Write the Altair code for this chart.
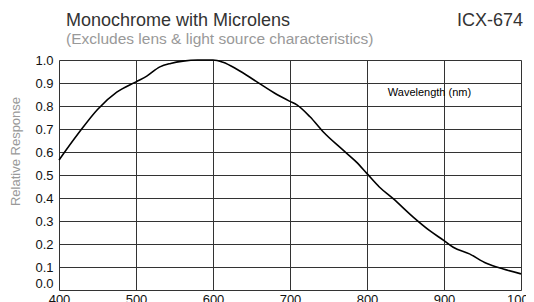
import altair as alt
import pandas as pd

wavelength = [400, 425, 450, 475, 500, 514, 531, 545, 561, 580, 600, 613, 631,
              657, 683, 700, 709, 726, 743, 769, 786, 800, 816, 834, 860, 881, 900,
              912, 933, 955, 977, 1000]
response = [0.565, 0.68, 0.785, 0.86, 0.905, 0.93, 0.97, 0.985, 0.995, 1.0, 1.0,
            0.99, 0.96, 0.905, 0.85, 0.82, 0.805, 0.753, 0.688, 0.608, 0.557, 0.506,
            0.448, 0.397, 0.317, 0.259, 0.215, 0.186, 0.157, 0.116, 0.091, 0.07]

x_ticks = [400, 500, 600, 700, 800, 900, 1000]
y_ticks = [0.0, 0.1, 0.2, 0.3, 0.4, 0.5, 0.6, 0.7, 0.8, 0.9, 1.0]

annot_text = ["Wavelength (nm)"]
annot_x = [827]
annot_y = [0.857]

title_text = ["Monochrome with Microlens"]
subtitle_text = ["(Excludes lens & light source characteristics)"]
model_text = ["ICX-674"]

FONT = "Liberation Sans"

df = pd.DataFrame({"wl": wavelength, "r": response})
ann = pd.DataFrame({"t": annot_text, "x": annot_x, "y": annot_y})

xs = alt.Scale(domain=[400, 1000], nice=False)
ys = alt.Scale(domain=[0, 1], nice=False)

x_axis = alt.Axis(values=x_ticks, format="d", grid=True, gridColor="#333", gridWidth=1,
                  domain=False, ticks=False, labelPadding=3, labelOverlap=False,
                  labelFlush=False,
                  labelFont=FONT, labelFontSize=13, labelColor="#111")
y_axis = alt.Axis(values=y_ticks, format=".1f", grid=True, gridColor="#333", gridWidth=1,
                  domain=False, ticks=False, labelPadding=6, labelOverlap=False,
                  labelFlush=False,
                  labelBaseline={"condition": {"test": "datum.value == 0", "value": "bottom"},
                                 "value": "middle"},
                  labelFont=FONT, labelFontSize=13, labelColor="#111",
                  titleFont=FONT, titleFontSize=13, titleColor="#999",
                  titleFontWeight="normal", titleY=91, titleX=-44,
                  titleAlign="center", titleBaseline="middle", titleAngle=270)

line = alt.Chart(df).mark_line(color="black", strokeWidth=1.6, interpolate="monotone").encode(
    x=alt.X("wl:Q", scale=xs, title=None, axis=x_axis),
    y=alt.Y("r:Q", scale=ys, title="Relative Response", axis=y_axis),
)

annot = alt.Chart(ann).mark_text(align="left", baseline="middle", font=FONT,
                                 fontSize=11, color="black").encode(
    x=alt.X("x:Q", scale=xs, title=None, axis=x_axis),
    y=alt.Y("y:Q", scale=ys, title="Relative Response", axis=y_axis),
    text="t:N")

def label(texts, x, y, size, color, align):
    return alt.Chart(pd.DataFrame({"t": texts})).mark_text(
        align=align, baseline="alphabetic", font=FONT, fontSize=size, color=color
    ).encode(x=alt.value(x), y=alt.value(y), text="t:N")

title = label(title_text, 7, -34, 18, "#333", "left")
subtitle = label(subtitle_text, 7, -16, 15.5, "#999", "left")
model = label(model_text, 464, -34, 18, "#333", "right")

chart = alt.layer(line, annot, title, subtitle, model).properties(
    width=462, height=230,
    autosize=alt.AutoSizeParams(type="none"),
    padding={"left": 51, "top": 52, "right": 5, "bottom": 12},
).configure_view(stroke="black", strokeWidth=2).configure(background="white")

chart.save("out.html", embed_options={"renderer": "svg", "actions": False})
